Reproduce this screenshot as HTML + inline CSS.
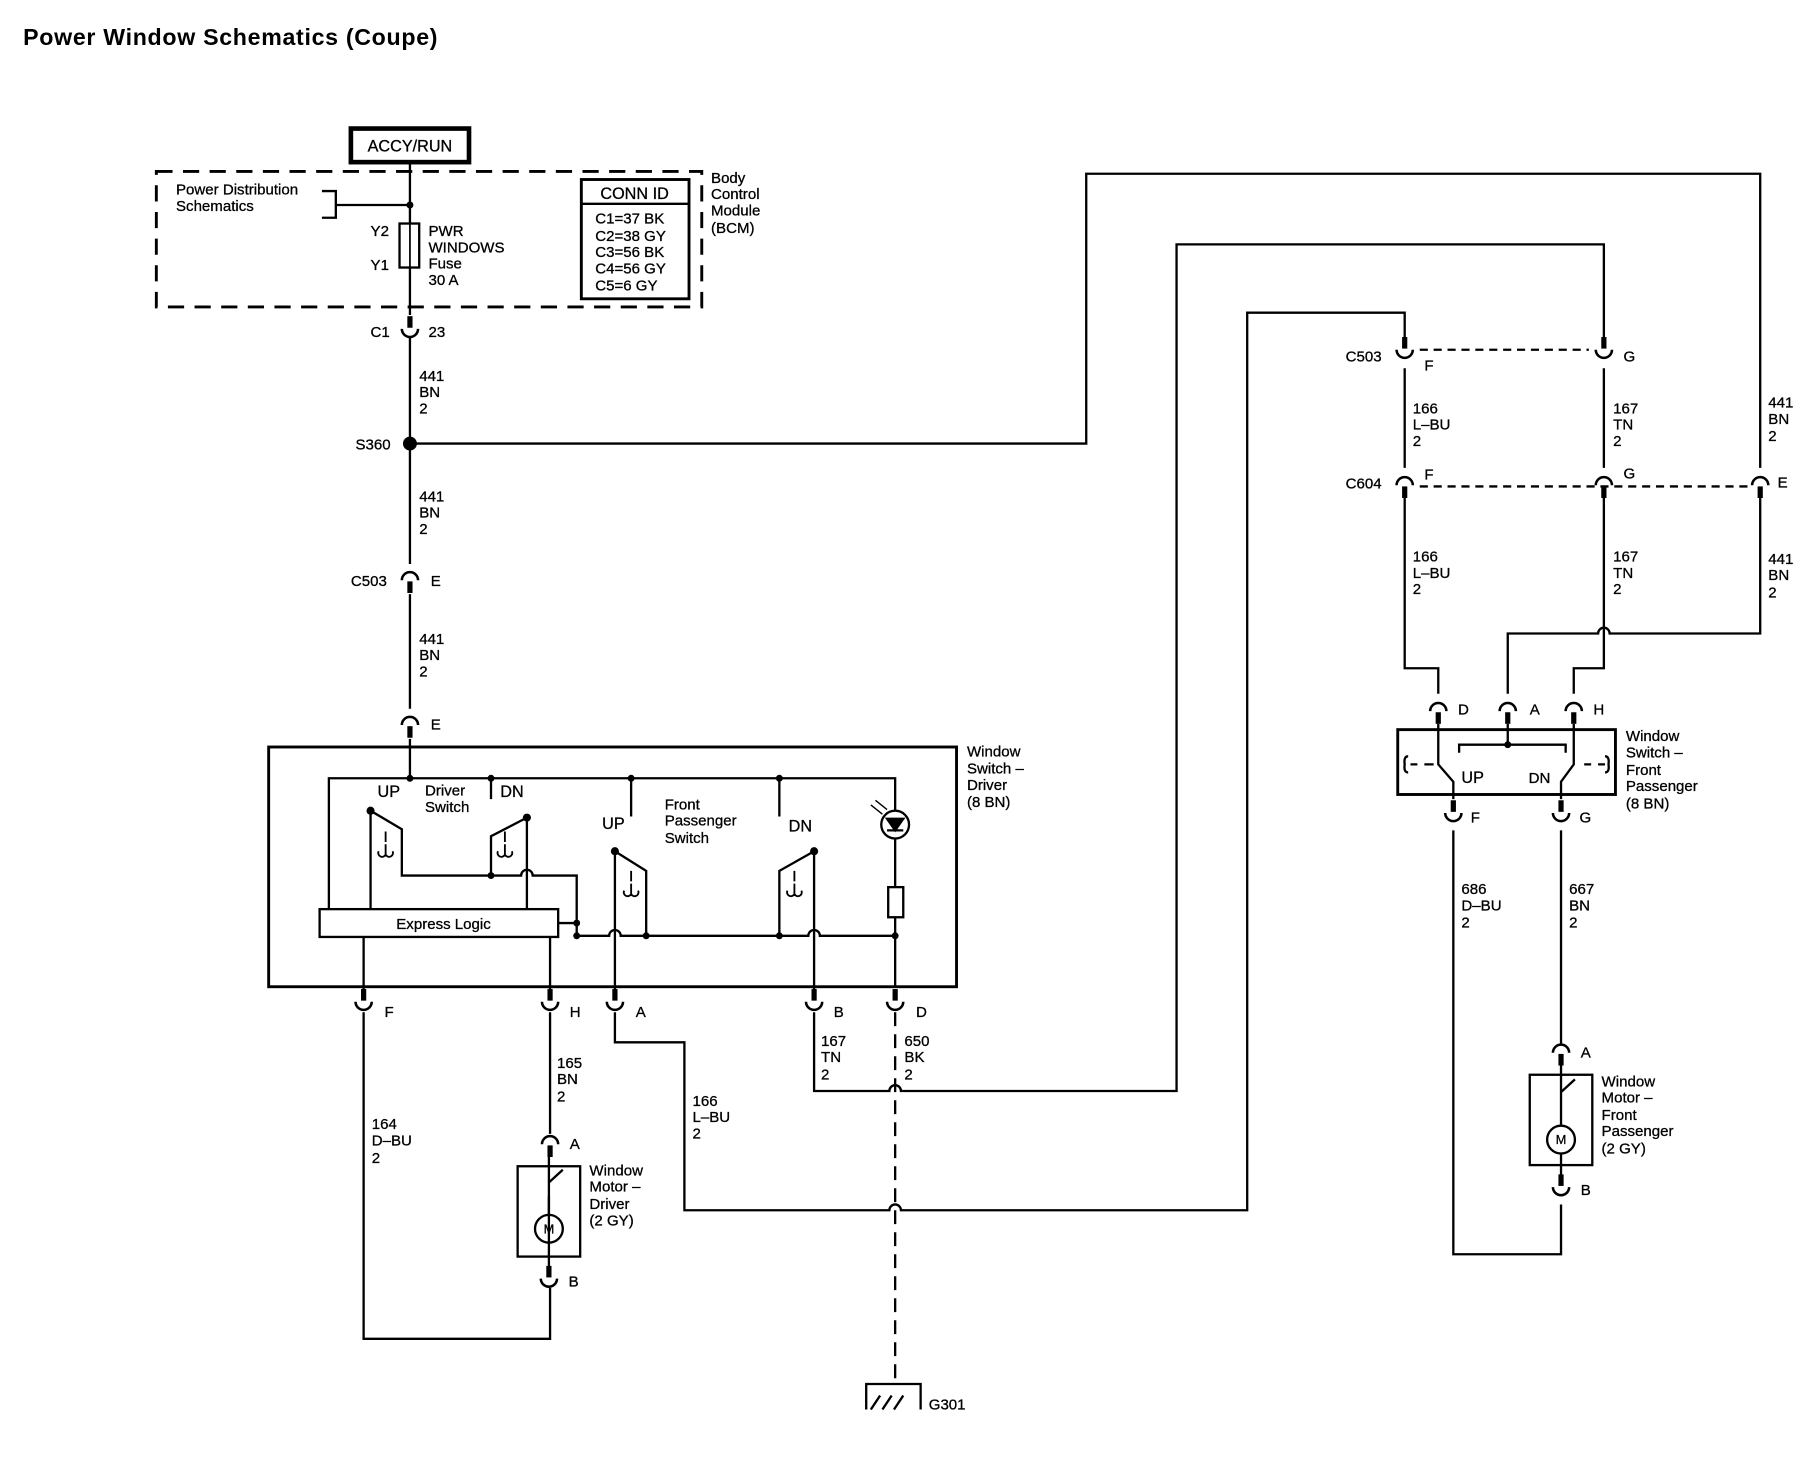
<!DOCTYPE html>
<html><head><meta charset="utf-8"><style>
html,body{margin:0;padding:0;background:#fff;}
svg{display:block;}
text{font-family:"Liberation Sans",Arial,sans-serif;font-size:13px;fill:#000;stroke:#000;stroke-width:0.25px;}
</style></head><body>
<svg width="1810" height="1472" viewBox="0 0 1563 1271" preserveAspectRatio="none" xmlns="http://www.w3.org/2000/svg">
<defs>
<g id="cd"><path d="M0,-13 V-3" stroke="#000" stroke-width="4.5" fill="none"/><path d="M-7,-2 A7,7 0 0 0 7,-2" stroke="#000" stroke-width="2.2" fill="none"/></g>
<g id="cu"><path d="M0,13 V3" stroke="#000" stroke-width="4.5" fill="none"/><path d="M-7,2 A7,7 0 0 1 7,2" stroke="#000" stroke-width="2.2" fill="none"/></g>
</defs>
<rect width="1563" height="1271" fill="#fff"/>
<text x="20" y="39" style="font-size:20px;font-weight:bold;letter-spacing:0.6px;stroke-width:0">Power Window Schematics (Coupe)</text>

<g stroke="#000" stroke-width="2" fill="none">
<rect x="303" y="111" width="102" height="29" stroke-width="4"/>
<rect x="135" y="148" width="471" height="117" stroke-width="2.5" stroke-dasharray="14,9"/>
<path d="M278,165 H290 V188 H278 M290,177 H354"/>
<path d="M354,140 V193 M354,231 V272"/>
<rect x="345" y="193" width="17" height="38"/>
<path d="M354,193 V231" stroke-width="1.5"/>
<rect x="502" y="155" width="93" height="103" stroke-width="2.5"/>
<path d="M502,176 H595"/>
<path d="M354,291 V487"/>
<path d="M354,383 H938 V150 H1520 V404 M1520,430 V547 H1390 A5,5 0 0 0 1380,547 H1302 V599"/>
<path d="M354,513 V612"/>
<path d="M354,638 V672"/>
<rect x="232" y="645" width="594" height="207" stroke-width="2.5"/>
<path d="M284,785 V672 H773 V700 M773,724 V766 M773,792 V852"/>
<path d="M424,672 V690 M545,672 V705 M673,672 V705"/>
<circle cx="773" cy="712" r="12"/>
<path d="M766,707 H780 L773,717 Z M766,717 H780" fill="#000"/>
<path d="M752,695 L762,703 M756,691 L766,699" stroke-width="1.2"/>
<rect x="767" y="766" width="13" height="26"/>
<rect x="276" y="785" width="206" height="24"/>
<path d="M320,700 V785 M320,700 L347,716 V756 H424 M424,756 V722 L455,706 M455,706 V785"/>
<path d="M424,756 H450 A5,5 0 0 1 460,756 H498 V808 M482,797 H498"/>
<path d="M333,718 V727 M327,735 A3,3 0 0 0 333,738 A3,3 0 0 0 339,735 M333,729 V738" stroke-width="1.6"/>
<path d="M436,718 V727 M430,735 A3,3 0 0 0 436,738 A3,3 0 0 0 442,735 M436,729 V738" stroke-width="1.6"/>
<path d="M498,808 H526 A5,5 0 0 1 536,808 H698 A5,5 0 0 1 708,808 H773"/>
<path d="M531,735 V855 M531,735 L558,752 V808 M673,808 V752 L703,735 M703,735 V855"/>
<path d="M545,752 V761 M539,769 A3,3 0 0 0 545,772 A3,3 0 0 0 551,769 M545,763 V772" stroke-width="1.6"/>
<path d="M686,752 V761 M680,769 A3,3 0 0 0 686,772 A3,3 0 0 0 692,769 M686,763 V772" stroke-width="1.6"/>
<path d="M314,809 V855 M475,809 V855"/>
<path d="M314,874 V1156 H475 V1112"/>
<path d="M475,874 V979 M474,1033 V1099" />
<rect x="447" y="1007" width="54" height="78"/>
<path d="M474,992 V1021 L486,1010 M474,1021 V1049"/>
<circle cx="474" cy="1061" r="12"/>
<path d="M531,874 V900 H591 V1045 H768 A5,5 0 0 1 778,1045 H1077 V270 H1213 V292"/>
<path d="M703,874 V942 H768 A5,5 0 0 1 778,942 H1016 V211 H1385 V292"/>
<path d="M773,874 V1195" stroke-dasharray="12,7"/>
<path d="M748,1217 V1195 H795 V1217 M752,1217 L760,1205 M762,1217 L770,1205 M772,1217 L780,1205" stroke-width="2"/>
<path d="M1226,302 H1372" stroke-dasharray="7,5"/>
<path d="M1226,420 H1510" stroke-dasharray="7,5"/>
<path d="M1213,318 V404 M1385,318 V404"/>
<path d="M1213,430 V577 H1242 V599 M1385,430 V577 H1359 V599"/>
<rect x="1207" y="630" width="188" height="56" stroke-width="2.5"/>
<path d="M1302,625 V643 M1260,650 V643 H1352 V650"/>
<path d="M1242,625 V660 L1255,675 V690 M1359,625 V660 L1348,675 V690"/>
<path d="M1218,660 H1224 M1230,660 H1238 M1368,660 H1374 M1380,660 H1386" stroke-width="2"/>
<path d="M1216,653 Q1212,653 1213,660 Q1212,667 1216,667 M1386,653 Q1390,653 1389,660 Q1390,667 1386,667"/>
<path d="M1255,717 V1083 H1348 V1040 M1348,717 V901"/>
<rect x="1321" y="928" width="54" height="78"/>
<path d="M1348,914 V943 L1360,932 M1348,943 V972"/>
<circle cx="1348" cy="984" r="12"/>
<path d="M1348,996 V1020"/>
</g>
<g fill="#000">
<circle cx="354" cy="177" r="3"/>
<circle cx="354" cy="383" r="6"/>
<circle cx="424" cy="672" r="3"/><circle cx="545" cy="672" r="3"/><circle cx="673" cy="672" r="3"/><circle cx="354" cy="672" r="3"/>
<circle cx="320" cy="700" r="3.5"/><circle cx="455" cy="706" r="3.5"/><circle cx="531" cy="735" r="3.5"/><circle cx="703" cy="735" r="3.5"/>
<circle cx="424" cy="756" r="3"/><circle cx="498" cy="797" r="3"/><circle cx="498" cy="808" r="3"/>
<circle cx="558" cy="808" r="3"/><circle cx="673" cy="808" r="3"/><circle cx="773" cy="808" r="3"/>
<circle cx="1302" cy="643" r="3"/>
</g>
<use href="#cd" x="354" y="286"/>
<use href="#cu" x="354" y="499"/>
<use href="#cu" x="354" y="624"/>
<use href="#cd" x="314" y="867"/><use href="#cd" x="475" y="867"/><use href="#cd" x="531" y="867"/><use href="#cd" x="703" y="867"/><use href="#cd" x="773" y="867"/>
<use href="#cu" x="475" y="986"/><use href="#cd" x="474" y="1106"/>
<use href="#cd" x="1213" y="304"/><use href="#cd" x="1385" y="304"/>
<use href="#cu" x="1213" y="417"/><use href="#cu" x="1385" y="417"/><use href="#cu" x="1520" y="417"/>
<use href="#cu" x="1242" y="612"/><use href="#cu" x="1302" y="612"/><use href="#cu" x="1359" y="612"/>
<use href="#cd" x="1255" y="704"/><use href="#cd" x="1348" y="704"/>
<use href="#cu" x="1348" y="907"/><use href="#cd" x="1348" y="1027"/>

<text x="354" y="131" text-anchor="middle" style="font-size:14px">ACCY/RUN</text>
<text x="152" y="168">Power Distribution</text><text x="152" y="182">Schematics</text>
<text x="320" y="204">Y2</text><text x="320" y="233">Y1</text>
<text x="370" y="204">PWR</text><text x="370" y="218">WINDOWS</text><text x="370" y="232">Fuse</text><text x="370" y="246">30 A</text>
<text x="548" y="172" text-anchor="middle" style="font-size:14px">CONN ID</text>
<text x="514" y="193">C1=37 BK</text><text x="514" y="208">C2=38 GY</text><text x="514" y="222">C3=56 BK</text><text x="514" y="236">C4=56 GY</text><text x="514" y="251">C5=6 GY</text>
<text x="614" y="158">Body</text><text x="614" y="172">Control</text><text x="614" y="186">Module</text><text x="614" y="201">(BCM)</text>
<text x="320" y="291">C1</text><text x="370" y="291">23</text>
<text x="362" y="329">441</text><text x="362" y="343">BN</text><text x="362" y="357">2</text>
<text x="307" y="388">S360</text>
<text x="362" y="433">441</text><text x="362" y="447">BN</text><text x="362" y="461">2</text>
<text x="303" y="506">C503</text><text x="372" y="506">E</text>
<text x="362" y="556">441</text><text x="362" y="570">BN</text><text x="362" y="584">2</text>
<text x="372" y="630">E</text>
<text x="835" y="653">Window</text><text x="835" y="668">Switch –</text><text x="835" y="682">Driver</text><text x="835" y="697">(8 BN)</text>
<text x="326" y="688" style="font-size:14px">UP</text>
<text x="367" y="687">Driver</text><text x="367" y="701">Switch</text>
<text x="432" y="688" style="font-size:14px">DN</text>
<text x="520" y="716" style="font-size:14px">UP</text>
<text x="574" y="699">Front</text><text x="574" y="713">Passenger</text><text x="574" y="728">Switch</text>
<text x="681" y="718" style="font-size:14px">DN</text>
<text x="383" y="802" text-anchor="middle">Express Logic</text>
<text x="332" y="878">F</text><text x="492" y="878">H</text><text x="549" y="878">A</text><text x="720" y="878">B</text><text x="791" y="878">D</text>
<text x="709" y="903">167</text><text x="709" y="917">TN</text><text x="709" y="932">2</text>
<text x="781" y="903">650</text><text x="781" y="917">BK</text><text x="781" y="932">2</text>
<text x="481" y="922">165</text><text x="481" y="936">BN</text><text x="481" y="951">2</text>
<text x="598" y="955">166</text><text x="598" y="969">L–BU</text><text x="598" y="983">2</text>
<text x="321" y="975">164</text><text x="321" y="989">D–BU</text><text x="321" y="1004">2</text>
<text x="492" y="992">A</text>
<text x="509" y="1015">Window</text><text x="509" y="1029">Motor –</text><text x="509" y="1044">Driver</text><text x="509" y="1058">(2 GY)</text>
<text x="491" y="1111">B</text>
<text x="802" y="1217">G301</text>
<text x="1162" y="312">C503</text><text x="1230" y="320">F</text><text x="1402" y="312">G</text>
<text x="1220" y="357">166</text><text x="1220" y="371">L–BU</text><text x="1220" y="385">2</text>
<text x="1393" y="357">167</text><text x="1393" y="371">TN</text><text x="1393" y="385">2</text>
<text x="1527" y="352">441</text><text x="1527" y="366">BN</text><text x="1527" y="381">2</text>
<text x="1162" y="422">C604</text><text x="1230" y="414">F</text><text x="1402" y="413">G</text><text x="1535" y="421">E</text>
<text x="1220" y="485">166</text><text x="1220" y="499">L–BU</text><text x="1220" y="513">2</text>
<text x="1393" y="485">167</text><text x="1393" y="499">TN</text><text x="1393" y="513">2</text>
<text x="1527" y="487">441</text><text x="1527" y="501">BN</text><text x="1527" y="516">2</text>
<text x="1259" y="617">D</text><text x="1321" y="617">A</text><text x="1376" y="617">H</text>
<text x="1404" y="640">Window</text><text x="1404" y="654">Switch –</text><text x="1404" y="669">Front</text><text x="1404" y="683">Passenger</text><text x="1404" y="698">(8 BN)</text>
<text x="1262" y="676" style="font-size:14px">UP</text><text x="1320" y="676">DN</text>
<text x="1270" y="710">F</text><text x="1364" y="710">G</text>
<text x="1262" y="772">686</text><text x="1262" y="786">D–BU</text><text x="1262" y="801">2</text>
<text x="1355" y="772">667</text><text x="1355" y="786">BN</text><text x="1355" y="801">2</text>
<text x="1365" y="913">A</text>
<text x="1383" y="938">Window</text><text x="1383" y="952">Motor –</text><text x="1383" y="967">Front</text><text x="1383" y="981">Passenger</text><text x="1383" y="996">(2 GY)</text>
<text x="1365" y="1032">B</text>
<text x="474" y="1065" text-anchor="middle" style="font-size:11px">M</text>
<text x="1348" y="988" text-anchor="middle" style="font-size:11px">M</text>
</svg>
</body></html>
